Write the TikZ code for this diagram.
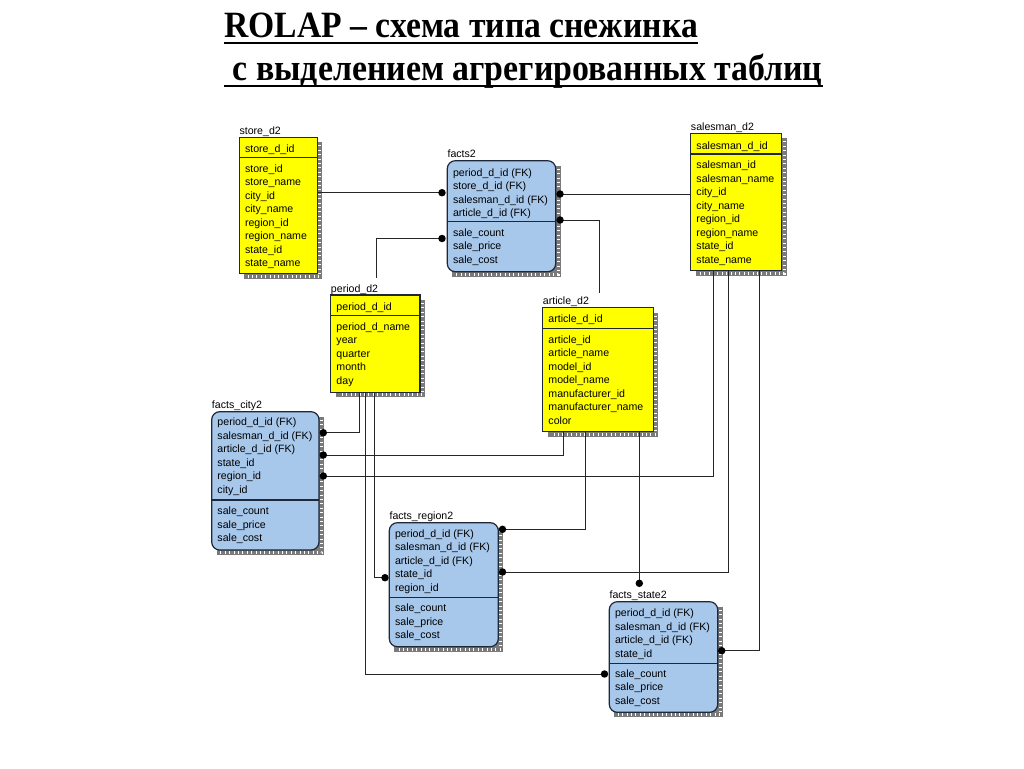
\documentclass[tikz,border=0pt]{standalone}
\usepackage{fontspec}
\usepackage{graphicx}
\setmainfont{Liberation Sans}
\newfontfamily\ttlfont{Liberation Serif}
\usetikzlibrary{calc}
\definecolor{ylw}{HTML}{FFFF00}
\definecolor{blu}{HTML}{A7C7EB}
\definecolor{bdr}{HTML}{1E2838}
\definecolor{shd}{HTML}{7A7A7A}
\tikzset{
  ybox/.style={draw=bdr, fill=ylw, line width=0.9pt, inner sep=0, outer sep=0, anchor=north west, rectangle},
  bbox/.style={draw=bdr, fill=blu, line width=0.9pt, rounded corners=6pt, inner sep=0, outer sep=0, anchor=north west, rectangle},
  rowtxt/.style={font=\fontsize{7.95}{9}\selectfont, inner sep=0, anchor=base west, text=black},
  lbl/.style={font=\fontsize{7.95}{9}\selectfont, inner sep=0, anchor=base west, text=black},
  conn/.style={draw=black!85, line width=0.7pt},
  ttl/.style={font=\ttlfont\bfseries\fontsize{27}{30}\selectfont, inner sep=0, anchor=base west},
}
% #1 name, #2 style, #3 x, #4 y, #5 w, #6 h, #7 separator y
\newcommand\tbox[7]{%
  \fill[shd] (#3+5,#4+5) rectangle (#3+#5+5,#4+#6+5);
  \draw[white, line width=2.2pt, dash pattern=on 0.7pt off 2.6pt] (#3+#5+2.6,#4+8) -- (#3+#5+2.6,#4+#6+2.6) -- (#3+8,#4+#6+2.6);
  \node[#2, minimum width=#5*0.75pt, minimum height=#6*0.75pt] (#1) at (#3,#4) {};
  \draw[bdr, line width=0.9pt] (#3,#7) -- (#3+#5,#7);
}
% #1 prefix, #2 x, #3 first baseline, #4 list
\newcommand\rowlist[4]{%
  \foreach \t [count=\i from 0] in {#4} {\node[rowtxt] (#1\i) at (#2, #3+\i*13.5) {\t};}
}
\begin{document}
\begin{tikzpicture}[x=0.75pt,y=-0.75pt]
\useasboundingbox (0,0) rectangle (1024,768);
\fill[white] (0,0) rectangle (1024,768);

% title
\node[ttl] (t1) at (224,37.7) {\scalebox{0.935}[1.03]{ROLAP – схема типа снежинка}};
\node[ttl] (t2) at (224,80) {\scalebox{0.94}[1.03]{~с выделением агрегированных таблиц}};
\draw[line width=1.8pt] ($(t1.base west)+(0,5)$) -- ($(t1.base east)+(0,5)$);
\draw[line width=1.8pt] ($(t2.base west)+(0,6)$) -- ($(t2.base east)+(0,6)$);

% tables
\tbox{store}{ybox}{239.3}{137.3}{78}{136.5}{157.3}
\node[lbl] (lstore) at (239.3,134.3) {store\_d2};
\rowlist{sk}{244.8}{152}{store\_d\_id}
\rowlist{sa}{244.8}{172.3}{store\_id,store\_name,city\_id,city\_name,region\_id,region\_name,state\_id,state\_name}

\tbox{facts}{bbox}{447.3}{160.7}{108.4}{111}{221.7}
\node[lbl] (lfacts) at (447.3,157.7) {facts2};
\rowlist{fk}{452.8}{176.3}{period\_d\_id (FK),store\_d\_id (FK),salesman\_d\_id (FK),article\_d\_id (FK)}
\rowlist{fa}{452.8}{236}{sale\_count,sale\_price,sale\_cost}

\tbox{sales}{ybox}{690.7}{133.3}{91}{137.4}{154}
\node[lbl] (lsales) at (690.7,130.3) {salesman\_d2};
\rowlist{mk}{696.2}{149}{salesman\_d\_id}
\rowlist{ma}{696.2}{168.7}{salesman\_id,salesman\_name,city\_id,city\_name,region\_id,region\_name,state\_id,state\_name}

\tbox{period}{ybox}{330.7}{295}{89.3}{97.3}{315.7}
\node[lbl] (lperiod) at (330.7,292) {period\_d2};
\rowlist{pk}{336.2}{310}{period\_d\_id}
\rowlist{pa}{336.2}{330.3}{period\_d\_name,year,quarter,month,day}

\tbox{article}{ybox}{542.7}{307.7}{110.6}{124}{328.3}
\node[lbl] (larticle) at (542.7,304.7) {article\_d2};
\rowlist{ak}{548.2}{322.3}{article\_d\_id}
\rowlist{aa}{548.2}{343}{article\_id,article\_name,model\_id,model\_name,manufacturer\_id,manufacturer\_name,color}

\tbox{city}{bbox}{211.7}{411.7}{107.3}{138.3}{500}
\node[lbl] (lcity) at (211.7,408.7) {facts\_city2};
\rowlist{ck}{217.2}{425.7}{period\_d\_id (FK),salesman\_d\_id (FK),article\_d\_id (FK),state\_id,region\_id,city\_id}
\rowlist{ca}{217.2}{514.7}{sale\_count,sale\_price,sale\_cost}

\tbox{region}{bbox}{389.3}{522.7}{109}{124}{597.7}
\node[lbl] (lregion) at (389.3,519.7) {facts\_region2};
\rowlist{rk}{394.8}{537.3}{period\_d\_id (FK),salesman\_d\_id (FK),article\_d\_id (FK),state\_id,region\_id}
\rowlist{ra}{394.8}{611.7}{sale\_count,sale\_price,sale\_cost}

\tbox{state}{bbox}{609.3}{601.7}{108.4}{110.6}{663.3}
\node[lbl] (lstate) at (609.3,598.7) {facts\_state2};
\rowlist{tk}{614.8}{616.7}{period\_d\_id (FK),salesman\_d\_id (FK),article\_d\_id (FK),state\_id}
\rowlist{ta}{614.8}{677.3}{sale\_count,sale\_price,sale\_cost}

% dot coordinates
\coordinate (d1) at (442,192.7);
\coordinate (d2) at (560,194);
\coordinate (d3) at (560,220);
\coordinate (d4) at (442,238.5);
\coordinate (a3) at (599,293);
\coordinate (p4) at (376,278);
\coordinate (dc1) at (323.3,432.7);
\coordinate (dc2) at (323.3,455);
\coordinate (dc3) at (323.3,476);
\coordinate (dr1) at (502.5,529.3);
\coordinate (dr2) at (502.5,572);
\coordinate (dr3) at (385,577.7);
\coordinate (ds1) at (639.3,583.3);
\coordinate (ds2) at (721.7,650.7);
\coordinate (ds3) at (604.5,674);

% connectors
\draw[conn] (store.east |- d1) -- (d1);
\draw[conn] (d2) -- (sales.west |- d2);
\draw[conn] (d3) -| (a3);
\draw[conn] (d4) -| (p4);
\draw[conn] ($(period.south west)+(28.6,0)$) |- (dc1);
\draw[conn] ($(period.south west)+(35,0)$) |- (ds3);
\draw[conn] ($(period.south west)+(43.3,0)$) |- (dr3);
\draw[conn] ($(article.south west)+(20.6,0)$) |- (dc2);
\draw[conn] ($(article.south west)+(42.3,0)$) |- (dr1);
\draw[conn] ($(article.south west)+(96.6,0)$) |- (ds1);
\draw[conn] ($(sales.south west)+(22.6,0)$) |- (dc3);
\draw[conn] ($(sales.south west)+(37.6,0)$) |- (dr2);
\draw[conn] ($(sales.south west)+(68.6,0)$) |- (ds2);

\foreach \d in {d1,d2,d3,d4,dc1,dc2,dc3,dr1,dr2,dr3,ds1,ds2,ds3}
  \fill[black] (\d) circle (2.8pt);
\end{tikzpicture}
\end{document}
